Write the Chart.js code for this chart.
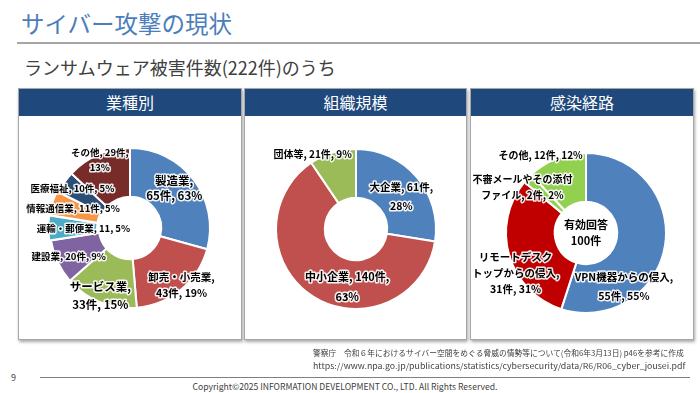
<!DOCTYPE html>
<html>
<head>
<meta charset="utf-8">
<script src="https://cdn.jsdelivr.net/npm/chart.js@4.4.0/dist/chart.umd.min.js"></script>
<style>
  body { margin:0; width:700px; height:393px; background:#fff; position:relative; overflow:hidden;
         font-family:"Noto Sans CJK JP","Noto Sans",sans-serif; }
  .title { position:absolute; left:21px; top:7px; font-size:23.5px; line-height:32px; color:#4a7ebb; }
  .rule { position:absolute; left:17px; right:0; top:42px; height:2px; background:#a6a6a6; }
  .sub { position:absolute; left:24px; top:54px; font-size:18px; line-height:26px; color:#404040; }
  .panel { position:absolute; top:88px; height:250px; border:1px solid #a6a6a6; background:#fff;
           box-shadow:1px 2px 3px rgba(0,0,0,.35); }
  .panel .hd { height:27px; background:#1f497d; color:#fff; font-size:16px; line-height:27px; text-align:center; }
  canvas { position:absolute; }
  .src { position:absolute; left:313px; top:346px; font-size:8px; line-height:13px; color:#404040; white-space:nowrap; }
  .src span { display:inline-block; transform-origin:0 50%; }
  .pg { position:absolute; left:11px; top:371px; font-size:9px; color:#404040; }
  .foot-rule { position:absolute; left:40px; width:650px; top:377px; height:1px; background:#808080; }
  .copy { position:absolute; left:0; width:690px; top:380px; text-align:center; font-size:8.6px; color:#404040; }
</style>
</head>
<body>
<div class="title">サイバー攻撃の現状</div>
<div class="rule"></div>
<div class="sub">ランサムウェア被害件数(222件)のうち</div>

<div class="panel" style="left:18px;width:222px"><div class="hd">業種別</div></div>
<div class="panel" style="left:244px;width:221px"><div class="hd">組織規模</div></div>
<div class="panel" style="left:470px;width:222px"><div class="hd">感染経路</div></div>

<canvas id="c1" width="240" height="240" style="left:10px;top:108px"></canvas>
<canvas id="c2" width="240" height="240" style="left:236px;top:109px"></canvas>
<canvas id="c3" width="240" height="240" style="left:466px;top:113px"></canvas>

<div class="src"><span style="transform:scaleX(0.97)">警察庁　令和６年におけるサイバー空間をめぐる脅威の情勢等について(令和6年3月13日) p46を参考に作成</span><br><span style="transform:scaleX(1.1)">https://www.npa.go.jp/publications/statistics/cybersecurity/data/R6/R06_cyber_jousei.pdf</span></div>
<div class="pg">9</div>
<div class="foot-rule"></div>
<div class="copy">Copyright©2025 INFORMATION DEVELOPMENT CO., LTD. All Rights Reserved.</div>

<script>
// 業種別
const industryNames = ['製造業', '卸売・小売業', 'サービス業', '建設業', '運輸・郵便業', '情報通信業', '医療福祉', 'その他'];
const industryCounts = [65, 43, 33, 20, 11, 11, 10, 29];
const industryLabels = [
  ['製造業,', '65件, 63%'],
  ['卸売・小売業,', '43件, 19%'],
  ['サービス業,', '33件, 15%'],
  ['建設業, 20件, 9%'],
  ['運輸・郵便業, 11, 5%'],
  ['情報通信業, 11件, 5%'],
  ['医療福祉, 10件, 5%'],
  ['その他, 29件,', '13%']
];
const industryColors = ['#4f81bd', '#c0504d', '#9bbb59', '#8064a2', '#4bacc6', '#f79646', '#2c4d75', '#772c2a'];

// 組織規模
const sizeNames = ['大企業', '中小企業', '団体等'];
const sizeCounts = [61, 140, 21];
const sizeLabels = [
  ['大企業, 61件,', '28%'],
  ['中小企業, 140件,', '63%'],
  ['団体等, 21件, 9%']
];
const sizeColors = ['#4f81bd', '#c0504d', '#9bbb59'];

// 感染経路
const routeNames = ['VPN機器からの侵入', 'リモートデスクトップからの侵入', '不審メールやその添付ファイル', 'その他'];
const routeCounts = [55, 31, 2, 12];
const routeLabels = [
  ['VPN機器からの侵入,', '55件, 55%'],
  ['リモートデスク', 'トップからの侵入,', '31件, 31%'],
  ['不審メールやその添付', 'ファイル, 2件, 2%'],
  ['その他, 12件, 12%']
];
const routeColors = ['#4f81bd', '#c00000', '#92d050', '#92d050'];
const routeCenter = ['有効回答', '100件'];

// label placement tweaks (px from slice centre) and font sizes
const industryLayout = [
  {dx: 0, dy: -6, size: 11.5, lh: 15}, {dx: 16, dy: 14, size: 10.5, lh: 16}, {dx: -9, dy: 16, size: 11.5, lh: 18},
  {dx: -11, dy: 5, size: 9.5}, {dx: 9, dy: 0, size: 9.5}, {dx: -4, dy: -3, size: 9.5},
  {dx: -12, dy: -8, size: 9.5}, {dx: -8, dy: -17, size: 9.5, lh: 15}
];
const sizeLayout = [
  {dx: 3, dy: 4, size: 10.5, lh: 19}, {dx: 21, dy: 11, size: 11, lh: 20}, {dx: -27, dy: -22, size: 10}
];
const routeLayout = [
  {dx: -17, dy: 45, size: 10.5, lh: 19}, {dx: -17, dy: 25, size: 10.5, lh: 16},
  {dx: -23, dy: -8, size: 10, lh: 16}, {dx: -25, dy: -26, size: 10}
];

const sliceLabels = {
  id: 'sliceLabels',
  afterDatasetsDraw(chart, args, opts) {
    const ctx = chart.ctx;
    const meta = chart.getDatasetMeta(0);
    ctx.save();
    ctx.textAlign = 'center';
    ctx.textBaseline = 'middle';
    ctx.lineJoin = 'round';
    meta.data.forEach((arc, i) => {
      const p = arc.getProps(['x', 'y', 'startAngle', 'endAngle', 'innerRadius', 'outerRadius'], true);
      const mid = (p.startAngle + p.endAngle) / 2;
      const r = (p.innerRadius + p.outerRadius) / 2;
      const lay = opts.layout[i];
      const lines = opts.lines[i];
      const lh = lay.lh || 15;
      const cx = p.x + Math.cos(mid) * r + lay.dx;
      const cy = p.y + Math.sin(mid) * r + lay.dy;
      ctx.font = 'bold ' + lay.size + 'px "Noto Sans CJK JP", sans-serif';
      lines.forEach((t, k) => {
        const y = cy + (k - (lines.length - 1) / 2) * lh;
        ctx.strokeStyle = 'rgba(255,255,255,0.9)';
        ctx.lineWidth = 3;
        ctx.strokeText(t, cx, y);
        ctx.fillStyle = '#000';
        ctx.fillText(t, cx, y);
      });
    });
    if (opts.center) {
      const a = meta.data[0];
      ctx.font = 'bold 11px "Noto Sans CJK JP", sans-serif';
      ctx.fillStyle = '#000';
      opts.center.forEach((t, k) => {
        ctx.fillText(t, a.x, a.y + (k - (opts.center.length - 1) / 2) * 16);
      });
    }
    ctx.restore();
  }
};

function makeDonut(id, names, counts, colors, lines, layout, offsets, center) {
  new Chart(document.getElementById(id), {
    type: 'doughnut',
    data: {
      labels: names,
      datasets: [{
        data: counts,
        backgroundColor: colors,
        borderColor: '#fff',
        borderWidth: 2,
        offset: offsets || 0
      }]
    },
    options: {
      responsive: false,
      animation: false,
      radius: 80,
      cutout: '39%',
      layout: { padding: 0 },
      plugins: {
        legend: { display: false },
        tooltip: { enabled: false },
        sliceLabels: { lines: lines, layout: layout, center: center }
      }
    },
    plugins: [sliceLabels]
  });
}

makeDonut('c1', industryNames, industryCounts, industryColors, industryLabels, industryLayout, [0, 0, 0, 0, 4, 4, 0, 0]);
makeDonut('c2', sizeNames, sizeCounts, sizeColors, sizeLabels, sizeLayout);
makeDonut('c3', routeNames, routeCounts, routeColors, routeLabels, routeLayout, null, routeCenter);
</script>
</body>
</html>
